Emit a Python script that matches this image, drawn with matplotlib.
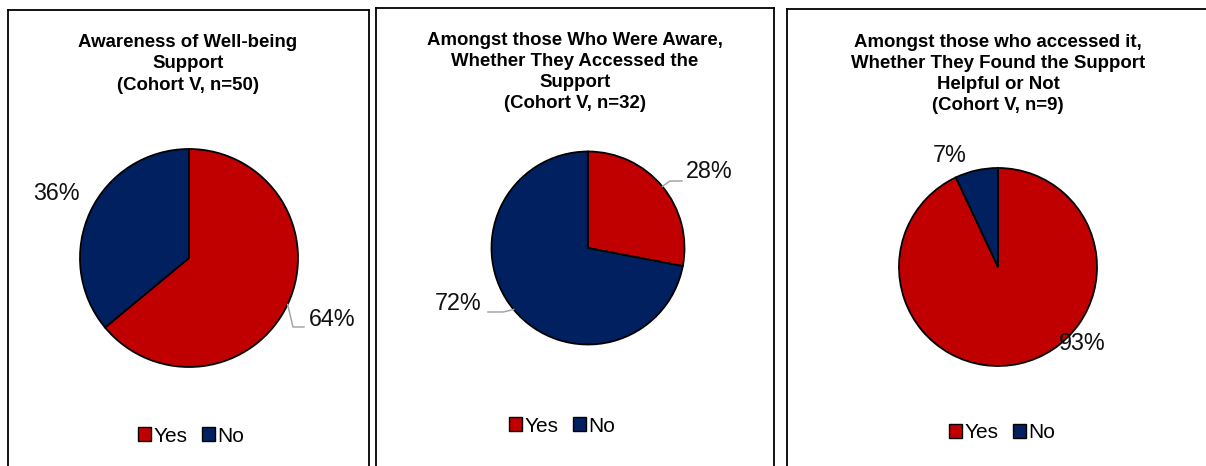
import numpy as np
import matplotlib.pyplot as plt
from matplotlib.patches import Patch

# ── Data ──────────────────────────────────────────────────────────────────────

CATEGORIES = ["Yes", "No"]

AWARE_PCT    = [64, 36]   # cohort V, n=50
ACCESSED_PCT = [28, 72]   # cohort V, n=32
HELPFUL_PCT  = [93, 7]    # cohort V, n=9

TITLES = [
    "Awareness of Well-being\nSupport\n(Cohort V, n=50)",
    "Amongst those Who Were Aware,\nWhether They Accessed the\nSupport\n(Cohort V, n=32)",
    "Amongst those who accessed it,\nWhether They Found the Support\nHelpful or Not\n(Cohort V, n=9)",
]

COLOURS = ["#C00000", "#002060"]

# ── Layout (figure pixels, y measured from the top) ──────────────────────────

W, H = 1206, 466
FONT = "Liberation Sans"

PANELS = [
    # box (x0, y0, x1, y1), pie centre, radius, title centre, legend centre
    dict(box=(8, 10, 369, 480), centre=(189, 258), r=109,
         title=(188, 64), legend=(191, 436)),
    dict(box=(376, 8, 774, 480), centre=(588, 248), r=96.5,
         title=(575, 72), legend=(562, 426)),
    dict(box=(787, 9, 1230, 480), centre=(998, 267), r=99,
         title=(998, 74), legend=(1002, 433)),
]

# label centre for each slice, plus an optional leader elbow / end point
LABELS = [
    [dict(pos=(332, 319), leader=[(293, 327), (304, 327)]),
     dict(pos=(56, 193), leader=None)],
    [dict(pos=(709, 172), leader=[(670, 181), (682, 181)]),
     dict(pos=(458, 303), leader=[(503, 312), (488, 312)])],
    [dict(pos=(1082, 344), leader=None),
     dict(pos=(950, 156), leader=None)],
]


def flip(pt):
    """Top-down pixel coords -> axes data coords (y up)."""
    return pt[0], H - pt[1]


def draw_panel(fig, values, title, spec, labels):
    x0, y0, x1, y1 = spec["box"]
    ax = fig.add_axes([x0 / W, 1 - y1 / H, (x1 - x0) / W, (y1 - y0) / H])

    cx, cy = flip(spec["centre"])
    wedges, _ = ax.pie(
        values,
        colors=COLOURS,
        startangle=90,
        counterclock=False,
        center=(cx, cy),
        radius=spec["r"],
        wedgeprops=dict(edgecolor="black", linewidth=1.3),
    )

    ax.set(frame_on=True, xlim=(x0, x1), ylim=(H - y1, H - y0),
           xticks=[], yticks=[])
    ax.set_aspect("auto")
    for sp in ax.spines.values():
        sp.set_linewidth(1.3)
        sp.set_color("black")

    # percentage labels with Excel-style leader lines
    for w, v, lab in zip(wedges, values, labels):
        if lab["leader"]:
            mid = np.deg2rad((w.theta1 + w.theta2) / 2)
            start = (cx + spec["r"] * np.cos(mid), cy + spec["r"] * np.sin(mid))
            pts = [start] + [flip(p) for p in lab["leader"]]
            xs, ys = zip(*pts)
            ax.plot(xs, ys, color="#A6A6A6", linewidth=1.1, zorder=3)
        tx, ty = flip(lab["pos"])
        ax.text(tx, ty, f"{v}%", ha="center", va="center",
                fontsize=16.8, family=FONT, color="#111111", zorder=4)

    tx, ty = flip(spec["title"])
    ax.text(tx, ty, title, ha="center", va="center", fontsize=13.4,
            fontweight="bold", family=FONT, linespacing=1.33)

    handles = [Patch(facecolor=c, edgecolor="black", linewidth=1.0)
               for c in COLOURS]
    ax.legend(handles, CATEGORIES, loc="center",
              bbox_to_anchor=flip(spec["legend"]),
              bbox_transform=ax.transData, ncol=2, frameon=False,
              prop=dict(family=FONT, size=15),
              handlelength=0.62, handleheight=0.62,
              handletextpad=0.12, columnspacing=0.7, borderpad=0)
    return ax


fig = plt.figure(figsize=(W / 100, H / 100), dpi=100)

for values, title, spec, labels in zip(
        [AWARE_PCT, ACCESSED_PCT, HELPFUL_PCT], TITLES, PANELS, LABELS):
    draw_panel(fig, values, title, spec, labels)

fig.savefig("out.png", dpi=100, facecolor="white")
